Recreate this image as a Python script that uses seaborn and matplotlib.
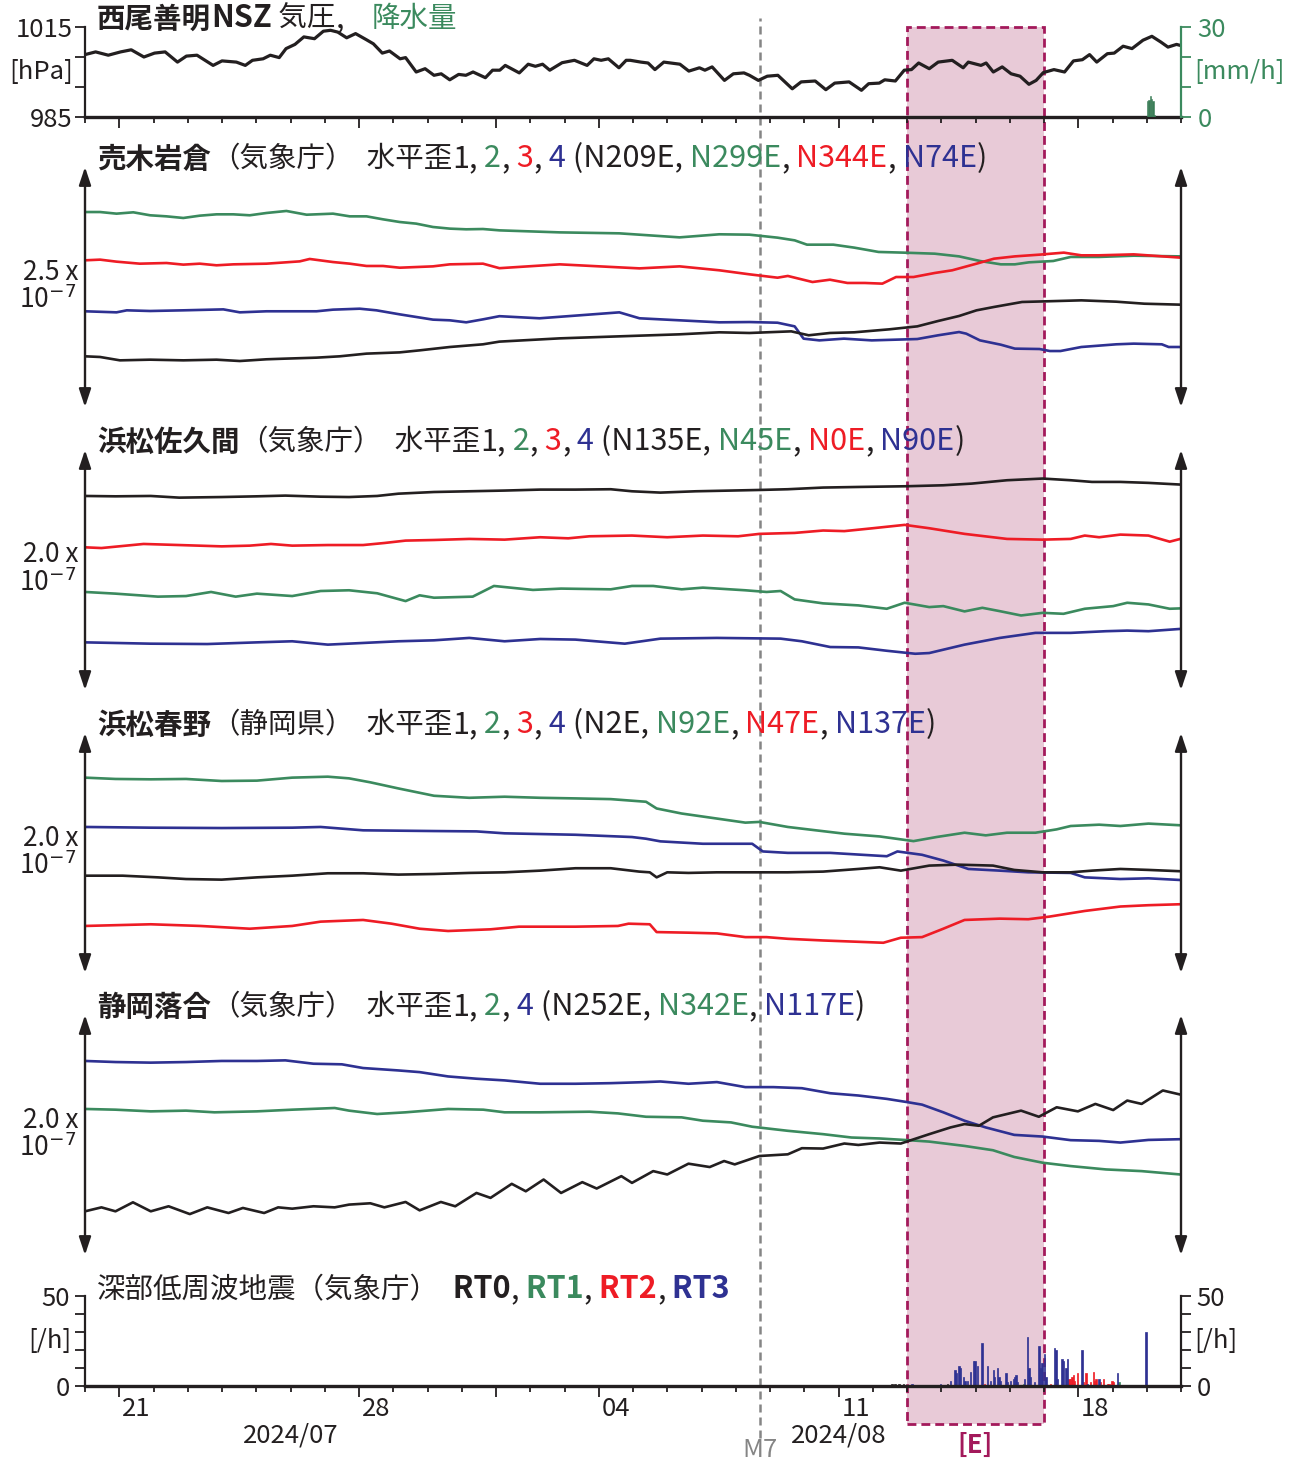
import numpy as np
import matplotlib
matplotlib.use("Agg")
import matplotlib.pyplot as plt
import matplotlib.dates as mdates
import matplotlib.transforms as mtransforms
from matplotlib.ticker import FixedLocator, NullFormatter
import seaborn as sns

sns.set_theme(style="ticks")
plt.rcParams["font.family"] = ["Noto Sans CJK JP", "DejaVu Sans"]
plt.rcParams["axes.unicode_minus"] = False

# ---------------- data ----------------
START = "2024-07-20T00:00"          # days below are counted from this time
END_DAYS = 32.0
M7_TIME = "2024-08-08T16:43"
E_PERIOD = ("2024-08-13T00:00", "2024-08-17T00:00")
MAJOR_DATES = ["2024-07-21", "2024-07-28", "2024-08-01", "2024-08-04", "2024-08-11", "2024-08-18"]
DAY_LABELS = [("2024-07-21T12:00", "21"), ("2024-07-28T12:00", "28"), ("2024-08-04T12:00", "04"),
              ("2024-08-11T12:00", "11"), ("2024-08-18T12:00", "18")]
MONTH_LABELS = [("2024-07-26T00:00", "2024/07"), ("2024-08-11T00:00", "2024/08")]

# 西尾善明NSZ pressure [hPa]
p_days = [0, 0.31, 0.68, 1.04, 1.35, 1.72, 2.03, 2.34, 2.70, 2.96,
          3.27, 3.74, 4.00, 4.42, 4.68, 4.89, 5.20, 5.41, 5.67, 5.87,
          6.13, 6.39, 6.70, 6.96, 7.17, 7.38, 7.64, 7.90, 8.21, 8.42,
          8.68, 8.89, 9.20, 9.36, 9.67, 9.93, 10.19, 10.40, 10.65, 10.91,
          11.12, 11.33, 11.69, 11.90, 12.11, 12.27, 12.68, 12.94, 13.15, 13.36,
          13.57, 13.93, 14.29, 14.66, 14.86, 15.07, 15.28, 15.59, 15.80,
          15.92, 16.23, 16.44, 16.64, 16.90, 17.37, 17.63, 17.94, 18.10, 18.31,
          18.67, 18.93, 19.24, 19.40, 19.66, 19.92, 20.23, 20.65, 20.91, 21.32,
          21.63, 21.89, 22.31, 22.67, 22.88, 23.19, 23.35, 23.66, 23.92, 24.13,
          24.34, 24.65, 24.91, 25.32, 25.64, 25.79, 26.16, 26.31, 26.52, 26.78,
          27.04, 27.30, 27.56, 27.77, 27.98, 28.29, 28.60, 28.86, 29.12, 29.33,
          29.54, 29.85, 30.05, 30.31, 30.57, 30.89, 31.15, 31.41, 31.62, 31.87, 32.0]
p_hpa = [1005.8, 1006.7, 1005.6, 1006.7, 1007.4, 1005.0, 1006.3, 1006.7, 1003.3, 1005.3,
         1005.6, 1002.2, 1003.7, 1003.3, 1002.2, 1003.9, 1004.4, 1005.6, 1004.8, 1007.8,
         1009.2, 1011.7, 1011.1, 1013.6, 1013.9, 1013.3, 1011.4, 1012.8, 1010.8, 1009.4,
         1006.3, 1007.0, 1004.4, 1004.8, 1000.0, 1001.1, 998.9, 999.4, 997.4, 999.2,
         998.9, 1000.0, 998.1, 1000.6, 1000.6, 1002.2, 999.7, 1002.6, 1001.9, 1002.6,
         1000.6, 1003.1, 1003.9, 1002.2, 1004.4, 1003.9, 1004.4, 1001.4, 1003.9,
         1003.9, 1003.3, 1003.0, 1000.8, 1003.3, 1002.6, 1000.3, 1001.4, 1000.6, 1001.7,
         997.2, 999.4, 999.7, 998.9, 997.2, 998.6, 998.9, 994.4, 996.7, 997.0,
         994.1, 996.3, 996.7, 993.9, 996.1, 996.3, 997.4, 997.0, 1000.6, 1000.8,
         1003.0, 1001.1, 1003.3, 1003.9, 1001.4, 1003.3, 1002.2, 1003.0, 1000.0, 1001.7,
         999.4, 998.6, 995.9, 997.2, 999.8, 1000.8, 1000.0, 1003.7, 1004.1, 1005.8,
         1003.3, 1006.1, 1006.3, 1008.6, 1007.8, 1010.6, 1011.9, 1010.0, 1008.3, 1009.2, 1008.8]

# precipitation [mm/h], hourly
rain_times = ["2024-08-20T00:00", "2024-08-20T01:00", "2024-08-20T02:00",
              "2024-08-20T03:00", "2024-08-20T04:00", "2024-08-20T05:00"]
rain_mm = [5.2, 5.6, 6.9, 6.0, 5.3, 0.8]

# strain, units of 1e-8 (relative)
# 売木岩倉
s1_k_d = [0, 0.44, 1.02, 1.90, 2.87, 3.84, 4.52, 5.30, 5.78, 6.76, 7.44, 8.22, 9.19, 9.77, 10.65, 11.62,
          12.10, 13.86, 15.60, 17.36, 18.52, 19.40, 20.62, 21.13, 21.75, 22.46, 23.48, 24.30, 24.91, 25.52,
          26.03, 26.54, 27.36, 28.38, 29.09, 30.11, 30.93, 31.98]
s1_k_v = [5.28, 5.21, 4.86, 4.93, 4.86, 4.93, 4.79, 4.97, 5.03, 5.14, 5.28, 5.56, 5.69, 5.90, 6.25, 6.53,
          6.81, 7.15, 7.36, 7.57, 7.78, 7.71, 7.88, 7.47, 7.71, 7.78, 8.09, 8.40, 8.96, 9.48,
          10.07, 10.42, 10.94, 11.04, 11.11, 10.97, 10.76, 10.66]
s1_g_d = [0, 0.44, 0.92, 1.41, 1.90, 2.38, 2.87, 3.35, 3.84, 4.33, 4.81, 5.30, 5.88, 6.47, 7.24, 7.73,
          8.22, 8.70, 9.19, 9.67, 10.16, 10.65, 11.13, 11.62, 12.10, 13.86, 15.60, 17.36, 18.52, 19.40,
          20.22, 20.72, 21.08, 21.85, 22.46, 23.17, 23.89, 24.81, 25.52, 26.13, 26.74, 27.15, 27.56, 28.27,
          28.78, 29.60, 30.62, 31.98]
s1_g_v = [20.31, 20.31, 20.14, 20.28, 19.97, 19.86, 19.69, 19.93, 20.07, 20.07, 19.97, 20.21, 20.42, 20.03, 20.14, 19.86,
          19.86, 19.55, 19.27, 19.10, 18.75, 18.58, 18.51, 18.54, 18.40, 18.19, 18.09, 17.67, 17.99, 17.95,
          17.64, 17.36, 16.91, 16.91, 16.60, 16.15, 16.08, 15.97, 15.69, 15.21, 14.86, 14.86, 15.07, 15.21,
          15.63, 15.63, 15.76, 15.69]
s1_r_d = [0, 0.44, 0.92, 1.60, 2.38, 2.87, 3.35, 3.84, 4.33, 5.30, 6.27, 6.56, 7.24, 7.73, 8.22, 8.70,
          9.19, 10.16, 10.65, 11.62, 12.10, 13.86, 15.02, 16.19, 17.36, 18.52, 19.40, 20.22, 20.52, 21.24,
          21.75, 22.26, 22.77, 23.28, 23.68, 24.19, 24.81, 25.32, 26.03, 26.54, 27.15, 27.87, 28.58, 29.09,
          29.60, 30.62, 31.98]
s1_r_v = [15.28, 15.35, 15.14, 14.93, 15.00, 14.83, 14.93, 14.76, 14.86, 14.93, 15.17, 15.42, 15.10, 14.93, 14.69, 14.69,
          14.51, 14.65, 14.86, 14.93, 14.46, 14.86, 14.65, 14.44, 14.65, 14.24, 13.82, 13.47, 13.65, 13.02,
          13.26, 12.92, 12.92, 12.85, 13.54, 13.54, 13.96, 14.24, 14.93, 15.45, 15.69, 15.87, 16.08, 15.80,
          15.80, 15.90, 15.56]
s1_b_d = [0, 0.92, 1.22, 1.90, 2.87, 4.04, 4.52, 5.30, 6.76, 7.24, 8.02, 8.51, 9.19, 10.16, 10.65, 11.13,
          11.62, 12.10, 13.27, 14.44, 15.60, 16.19, 17.36, 18.52, 19.40, 20.22, 20.72, 20.98, 21.44, 22.16,
          22.97, 24.30, 24.91, 25.52, 25.73, 26.13, 26.74, 27.15, 27.87, 28.17, 28.48, 29.09, 30.11, 30.62,
          31.44, 31.64, 31.98]
s1_b_v = [9.97, 9.86, 10.07, 10.00, 10.07, 10.17, 9.86, 9.97, 9.97, 10.14, 10.24, 10.07, 9.65, 9.10, 9.03, 8.82,
          9.13, 9.46, 9.24, 9.55, 9.86, 9.24, 9.03, 8.82, 8.85, 8.78, 8.40, 7.12, 6.94, 7.12,
          6.94, 7.08, 7.47, 7.81, 7.64, 6.94, 6.49, 6.08, 6.04, 5.83, 5.83, 6.25, 6.53, 6.60,
          6.53, 6.25, 6.25]

# 浜松佐久間
s2_k_d = [0, 0.89, 1.92, 2.75, 3.99, 5.02, 5.85, 6.88, 7.71, 8.53, 9.15, 10.19, 11.22, 12.25, 13.29, 14.32,
          15.35, 15.97, 16.80, 17.83, 18.86, 19.69, 20.52, 21.55, 22.58, 23.99, 25.06, 25.89, 26.92, 27.96,
          28.78, 29.40, 30.23, 31.05, 31.98]
s2_k_v = [16.17, 16.14, 16.17, 16.03, 16.08, 16.14, 16.20, 16.11, 16.08, 16.17, 16.36, 16.50, 16.56, 16.62, 16.70, 16.70,
          16.73, 16.56, 16.45, 16.56, 16.62, 16.67, 16.73, 16.87, 16.92, 16.98, 17.06, 17.20, 17.48, 17.62,
          17.48, 17.34, 17.34, 17.26, 17.12]
s2_r_d = [0, 0.48, 1.71, 2.75, 3.99, 4.81, 5.43, 6.05, 7.09, 8.12, 8.74, 9.36, 10.19, 11.22, 12.25, 13.29,
          14.11, 14.73, 15.97, 17.00, 18.04, 19.07, 19.69, 20.72, 21.55, 22.17, 23.00, 23.93, 24.65, 25.68,
          26.92, 27.96, 28.78, 29.19, 29.61, 30.23, 31.05, 31.67, 31.98]
s2_r_v = [11.89, 11.83, 12.17, 12.08, 11.97, 12.03, 12.17, 12.03, 12.08, 12.08, 12.25, 12.45, 12.50, 12.59, 12.53, 12.73,
          12.64, 12.81, 12.87, 12.73, 12.87, 12.81, 13.01, 13.09, 13.29, 13.24, 13.48, 13.76, 13.48, 13.01,
          12.59, 12.53, 12.59, 12.87, 12.73, 12.95, 12.87, 12.36, 12.59]
s2_g_d = [0, 0.89, 2.13, 2.95, 3.68, 4.40, 5.02, 6.05, 6.88, 7.71, 8.53, 9.36, 9.77, 10.19, 11.32, 11.94,
          13.08, 13.90, 15.35, 15.97, 16.59, 17.42, 18.04, 19.28, 19.90, 20.31, 20.72, 21.55, 22.58, 23.41,
          23.93, 24.65, 25.06, 25.68, 26.20, 26.71, 27.33, 27.96, 28.57, 29.19, 30.02, 30.43, 31.05, 31.67, 31.98]
s2_g_v = [8.17, 8.03, 7.78, 7.83, 8.17, 7.78, 8.03, 7.83, 8.25, 8.31, 8.06, 7.41, 7.89, 7.69, 7.78, 8.67,
          8.34, 8.45, 8.39, 8.67, 8.67, 8.39, 8.53, 8.31, 8.17, 8.25, 7.55, 7.22, 7.05, 6.77,
          7.27, 6.91, 6.99, 6.55, 6.85, 6.57, 6.21, 6.43, 6.35, 6.77, 6.99, 7.27, 7.13, 6.77, 6.80]
s2_b_d = [0, 1.92, 3.57, 5.02, 6.05, 7.09, 9.15, 10.19, 11.22, 12.25, 13.29, 14.32, 15.76, 16.80, 18.45, 20.31,
          20.93, 21.76, 22.58, 23.41, 24.24, 24.65, 25.68, 26.71, 27.75, 28.78, 29.81, 30.43, 31.05, 31.98]
s2_b_v = [3.97, 3.86, 3.83, 3.97, 4.06, 3.78, 4.06, 4.14, 4.34, 4.06, 4.25, 4.20, 3.86, 4.28, 4.34, 4.28,
          4.06, 3.58, 3.55, 3.27, 3.02, 3.08, 3.78, 4.34, 4.76, 4.76, 4.90, 4.95, 4.90, 5.09]

# 浜松春野
s3_k_d = [0, 1.10, 2.13, 2.95, 3.99, 5.02, 6.05, 7.09, 8.12, 9.15, 10.19, 11.22, 12.25, 13.29, 14.32, 15.35,
          16.18, 16.49, 16.69, 17.00, 17.62, 18.45, 19.69, 20.52, 21.55, 22.58, 23.20, 23.82, 24.65, 25.48,
          26.51, 27.13, 27.96, 28.78, 29.40, 30.23, 31.05, 31.98]
s3_k_v = [8.11, 8.11, 7.97, 7.83, 7.78, 7.97, 8.11, 8.31, 8.31, 8.20, 8.25, 8.34, 8.39, 8.53, 8.73, 8.73,
          8.45, 8.39, 7.97, 8.39, 8.34, 8.39, 8.39, 8.39, 8.45, 8.67, 8.81, 8.53, 8.95, 9.03,
          8.95, 8.59, 8.39, 8.39, 8.53, 8.67, 8.59, 8.48]
s3_g_d = [0, 0.89, 1.92, 2.95, 3.99, 5.02, 6.05, 7.09, 7.71, 8.33, 9.15, 10.19, 11.22, 12.25, 13.29, 14.32,
          15.35, 16.38, 16.69, 17.42, 18.45, 19.28, 19.69, 20.52, 21.34, 22.17, 23.20, 24.19, 24.86, 25.68,
          26.30, 26.92, 27.75, 28.37, 28.78, 29.61, 30.23, 31.05, 31.98]
s3_g_v = [16.28, 16.17, 16.14, 16.17, 16.00, 16.03, 16.28, 16.36, 16.22, 15.89, 15.38, 14.77, 14.60, 14.69, 14.60, 14.55,
          14.49, 14.27, 13.71, 13.29, 12.87, 12.53, 12.59, 12.17, 11.89, 11.61, 11.38, 10.99, 11.33, 11.69,
          11.47, 11.69, 11.69, 11.97, 12.25, 12.36, 12.25, 12.45, 12.31]
s3_r_d = [0, 1.92, 3.37, 4.81, 6.05, 6.88, 8.12, 8.95, 9.77, 10.60, 11.84, 12.67, 14.32, 15.56, 15.87, 16.49,
          16.69, 17.62, 18.45, 19.28, 19.90, 20.52, 21.55, 22.58, 23.31, 23.82, 24.44, 25.06, 25.68, 26.71,
          27.54, 28.16, 29.19, 30.23, 31.05, 31.98]
s3_r_v = [3.92, 4.06, 3.92, 3.69, 3.92, 4.28, 4.42, 4.11, 3.69, 3.50, 3.64, 3.86, 3.86, 3.92, 4.11, 4.06,
          3.41, 3.36, 3.30, 2.99, 2.99, 2.85, 2.71, 2.60, 2.52, 2.94, 2.99, 3.69, 4.42, 4.53,
          4.48, 4.70, 5.17, 5.54, 5.65, 5.73]
s3_b_d = [0, 1.92, 3.99, 6.05, 6.88, 8.12, 10.19, 11.43, 12.25, 14.32, 15.97, 16.38, 16.80, 18.04, 19.48, 19.79,
          20.52, 21.76, 22.58, 23.41, 23.72, 24.44, 25.06, 25.79, 26.71, 27.54, 28.78, 29.19, 30.23, 31.05, 31.98]
s3_b_v = [12.17, 12.11, 12.08, 12.11, 12.17, 11.89, 11.83, 11.80, 11.64, 11.52, 11.33, 11.19, 10.97, 10.77, 10.77, 10.13,
          10.01, 10.01, 9.87, 9.73, 10.13, 9.85, 9.37, 8.67, 8.53, 8.39, 8.34, 7.97, 7.83, 7.89, 7.75]

# 静岡落合
s4_k_d = [0, 0.48, 0.89, 1.40, 1.92, 2.44, 3.06, 3.57, 4.19, 4.61, 5.23, 5.64, 6.05, 6.67, 7.29, 7.71,
          8.33, 8.74, 9.36, 9.77, 10.39, 10.81, 11.43, 11.84, 12.46, 12.87, 13.39, 13.90, 14.52, 14.94,
          15.66, 15.97, 16.59, 17.00, 17.62, 18.24, 18.66, 18.97, 19.69, 20.52, 20.93, 21.55, 22.17, 22.58,
          23.20, 23.82, 24.65, 25.27, 25.68, 26.10, 26.51, 27.33, 27.85, 28.37, 28.99, 29.50, 30.02, 30.43,
          30.85, 31.47, 31.98]
s4_k_v = [3.64, 3.97, 3.64, 4.39, 3.64, 4.06, 3.41, 3.97, 3.50, 3.92, 3.50, 3.97, 3.86, 4.06, 3.97, 4.20,
          4.31, 3.97, 4.42, 3.72, 4.42, 4.06, 5.17, 4.76, 5.93, 5.31, 6.29, 5.17, 6.07, 5.54,
          6.57, 6.01, 6.99, 6.71, 7.61, 7.33, 7.83, 7.55, 8.25, 8.39, 8.90, 8.87, 9.29, 9.17,
          9.37, 9.29, 10.07, 10.63, 10.91, 10.77, 11.47, 12.03, 11.52, 12.31, 11.97, 12.59, 12.08, 12.87,
          12.59, 13.71, 13.37]
s4_g_d = [0, 0.89, 1.92, 2.95, 3.78, 5.02, 6.05, 7.29, 7.71, 8.53, 9.36, 10.60, 11.63, 12.25, 13.29, 14.73,
          15.56, 16.38, 17.42, 18.04, 18.86, 19.48, 20.52, 21.55, 22.38, 23.20, 24.03, 24.65, 25.68, 26.51,
          27.13, 27.96, 28.78, 29.81, 30.85, 31.98]
s4_g_v = [12.17, 12.11, 11.97, 12.03, 11.89, 11.97, 12.11, 12.25, 12.03, 11.75, 11.89, 12.17, 12.11, 11.89, 11.89, 11.94,
          11.80, 11.52, 11.47, 11.19, 11.05, 10.69, 10.35, 10.07, 9.79, 9.71, 9.57, 9.45, 9.09, 8.73,
          8.17, 7.69, 7.41, 7.13, 6.99, 6.71]
s4_b_d = [0, 0.89, 1.92, 2.95, 3.99, 5.02, 5.85, 6.67, 7.50, 8.12, 9.15, 9.77, 10.60, 11.43, 12.25, 13.29,
          14.32, 15.35, 16.38, 16.80, 17.62, 18.45, 19.28, 20.10, 20.93, 21.76, 22.58, 23.41, 24.03, 24.44,
          25.06, 25.68, 26.30, 27.13, 27.96, 28.78, 29.61, 30.23, 31.05, 31.98]
s4_b_v = [16.17, 16.08, 16.03, 16.08, 16.17, 16.17, 16.22, 15.94, 15.89, 15.58, 15.38, 15.24, 14.88, 14.69, 14.55, 14.27,
          14.27, 14.32, 14.41, 14.46, 14.27, 14.41, 13.99, 13.99, 13.90, 13.48, 13.29, 13.01, 12.73, 12.53,
          11.89, 11.19, 10.63, 10.01, 9.87, 9.57, 9.51, 9.37, 9.59, 9.65]

# 深部低周波地震 hourly counts (hours since 2024-08-13 00:00)
LFE_BASE = "2024-08-13T00:00"
rt0_h = [-11, -9, -6, -3, 28]
rt0_n = [1, 1, 1, 1, 1]
rt1_h = [81, 148]
rt1_n = [1, 2]
rt2_h = [54, 100, 113, 114, 115, 116, 117, 119, 123, 125, 128, 130, 131, 132, 135, 137, 140, 141, 143, 144]
rt2_n = [1, 1, 4, 4, 5, 6, 3, 7, 2, 7, 2, 8, 3, 4, 2, 4, 1, 1, 3, 2]
rt3_h = [3, 23, 30, 33, 34, 36, 37, 39, 40, 42, 44, 46, 47, 49, 52, 56, 58, 60, 61, 63,
         64, 65, 69, 70, 72, 74, 75, 76, 77, 82, 84, 85, 86, 89, 92, 93, 94, 96, 97, 103,
         104, 105, 108, 109, 111, 112, 122, 126, 134, 147, 167]
rt3_n = [1, 1, 3, 9, 7, 11, 10, 5, 3, 3, 8, 14, 14, 11, 24, 11, 3, 9, 5, 10,
         5, 3, 7, 2, 3, 4, 5, 6, 2, 4, 27, 10, 5, 2, 22, 10, 13, 18, 5, 21,
         20, 4, 15, 14, 10, 15, 20, 1, 4, 7, 30]

# ---------------- style ----------------
BLACK = "#231f20"
GREEN = "#3b8a5e"
RED = "#ee1c25"
BLUE = "#2e3192"
SHADE = "#e8cad7"
SHADE_EDGE = "#a3195b"
GRAY = "#858585"
FS_CJK = 20.5
FS_LATIN = 22
FS_TICK = 18.5
FS_SCALE = 19

W, H = 1298, 1463
L_PX, R_PX = 85, 1181


def dnum(s):
    return mdates.date2num(np.datetime64(s))


BASE = dnum(START)
X0, X1 = BASE, BASE + END_DAYS


def tx(days):
    return BASE + np.asarray(days, float)


def rect(top, bottom):
    return [L_PX / W, 1 - bottom / H, (R_PX - L_PX) / W, (bottom - top) / H]


fig = plt.figure(figsize=(W / 100, H / 100), dpi=100)

# background axes for the event shading and M7 line
BG_TOP, BG_BOT = 18, 1440
bg = fig.add_axes(rect(BG_TOP, BG_BOT), zorder=0)
bg.set_xlim(X0, X1)
bg.set_ylim(0, 1)
bg.axis("off")


def frac(px):
    return (BG_BOT - px) / (BG_BOT - BG_TOP)


e0, e1 = dnum(E_PERIOD[0]), dnum(E_PERIOD[1])
bg.axvspan(e0, e1, ymin=frac(1424), ymax=frac(27), facecolor=SHADE, edgecolor="none", zorder=0)
bg.axvspan(e0, e1, ymin=frac(1424), ymax=frac(27), facecolor="none", edgecolor=SHADE_EDGE,
           linestyle=(0, (3.2, 1.8)), linewidth=2.0, zorder=1)
bg.axvline(dnum(M7_TIME), ymin=frac(1438), ymax=frac(18), color=GRAY, linestyle=(0, (3.2, 2)),
           linewidth=1.8, zorder=2)


def is_cjk(s):
    return any(ord(ch) > 0x2E80 for ch in s)


def rainbow(ax, x, y, parts):
    s, c, w = parts[0]
    txt = ax.text(x, y, s, color=c, fontweight=w, fontsize=FS_CJK if is_cjk(s) else FS_LATIN,
                  transform=ax.transAxes, va="center", ha="left", zorder=6, clip_on=False)
    for s, c, w in parts[1:]:
        txt = ax.annotate(s, xy=(1, 0), xycoords=txt, va="bottom", ha="left", color=c,
                          fontweight=w, fontsize=FS_CJK if is_cjk(s) else FS_LATIN,
                          zorder=6, annotation_clip=False)
    return txt


def date_ticks(ax):
    ax.xaxis.set_major_locator(FixedLocator([dnum(d) for d in MAJOR_DATES]))
    ax.xaxis.set_minor_locator(mdates.DayLocator())
    ax.xaxis.set_major_formatter(NullFormatter())
    ax.xaxis.set_minor_formatter(NullFormatter())
    ax.tick_params(axis="x", which="major", length=8, width=1.3, direction="out", color=BLACK, bottom=True)
    ax.tick_params(axis="x", which="minor", length=4, width=1.3, direction="out", color=BLACK, bottom=True)


# ---------------- pressure panel ----------------
axp = fig.add_axes(rect(27, 117), zorder=2)
axp.patch.set_alpha(0)
axp.set_xlim(X0, X1)
axp.set_ylim(985, 1015)
sns.lineplot(x=tx(p_days), y=p_hpa, ax=axp, color=BLACK, linewidth=2.3, legend=False)
for side in ("top", "right"):
    axp.spines[side].set_visible(False)
axp.spines["left"].set_linewidth(1.6)
axp.spines["left"].set_color(BLACK)
axp.spines["bottom"].set_linewidth(2.4)
axp.spines["bottom"].set_color(BLACK)
date_ticks(axp)
axp.set_yticks([985, 995, 1005, 1015])
axp.set_yticklabels(["985", "", "", "1015"], fontsize=FS_TICK, color=BLACK)
axp.tick_params(axis="y", length=7, width=1.3, color=BLACK, direction="out", pad=2)
axp.text(-0.011, 0.5, "[hPa]", transform=axp.transAxes, ha="right", va="center",
         fontsize=FS_TICK, color=BLACK)

axr = axp.twinx()
axr.patch.set_alpha(0)
axr.set_ylim(0, 30)
axr.set_xlim(X0, X1)
axr.bar([dnum(s) for s in rain_times], rain_mm, width=1 / 24, align="edge", color="#3a7d57",
        edgecolor="#3a7d57", linewidth=0.4)
for side in ("top", "left", "bottom"):
    axr.spines[side].set_visible(False)
axr.spines["right"].set_color(GREEN)
axr.spines["right"].set_linewidth(1.6)
axr.set_yticks([0, 10, 20, 30])
axr.set_yticklabels(["0", "", "", "30"], fontsize=FS_TICK, color=GREEN)
axr.tick_params(axis="y", length=7, width=1.3, color=GREEN, direction="out", pad=5)
axr.text(1.012, 0.5, "[mm/h]", transform=axr.transAxes, ha="left", va="center",
         fontsize=FS_TICK, color=GREEN)
rainbow(axp, 0.011, 1.08, [("西尾善明", BLACK, "bold"), ("NSZ", BLACK, "bold"), (" 気圧", BLACK, "normal"),
                           (",", BLACK, "normal"), ("    ", BLACK, "normal"), ("降水量", GREEN, "normal")])

# ---------------- strain panels ----------------
strain_panels = [
    dict(top=167, bottom=407, rng=25, label="2.5 x",
         series=[(s1_g_d, s1_g_v, GREEN), (s1_r_d, s1_r_v, RED), (s1_b_d, s1_b_v, BLUE), (s1_k_d, s1_k_v, BLACK)],
         title=[("売木岩倉", BLACK, "bold"), ("（気象庁）", BLACK, "normal"), ("  水平歪", BLACK, "normal"),
                ("1,", BLACK, "normal"),
                (" 2", GREEN, "normal"), (",", BLACK, "normal"), (" 3", RED, "normal"), (",", BLACK, "normal"),
                (" 4", BLUE, "normal"), (" (N209E,", BLACK, "normal"), (" N299E", GREEN, "normal"),
                (",", BLACK, "normal"), (" N344E", RED, "normal"), (",", BLACK, "normal"),
                (" N74E", BLUE, "normal"), (")", BLACK, "normal")]),
    dict(top=450, bottom=690, rng=20, label="2.0 x",
         series=[(s2_k_d, s2_k_v, BLACK), (s2_r_d, s2_r_v, RED), (s2_g_d, s2_g_v, GREEN), (s2_b_d, s2_b_v, BLUE)],
         title=[("浜松佐久間", BLACK, "bold"), ("（気象庁）", BLACK, "normal"), ("  水平歪", BLACK, "normal"),
                ("1,", BLACK, "normal"),
                (" 2", GREEN, "normal"), (",", BLACK, "normal"), (" 3", RED, "normal"), (",", BLACK, "normal"),
                (" 4", BLUE, "normal"), (" (N135E,", BLACK, "normal"), (" N45E", GREEN, "normal"),
                (",", BLACK, "normal"), (" N0E", RED, "normal"), (",", BLACK, "normal"),
                (" N90E", BLUE, "normal"), (")", BLACK, "normal")]),
    dict(top=733, bottom=973, rng=20, label="2.0 x",
         series=[(s3_g_d, s3_g_v, GREEN), (s3_b_d, s3_b_v, BLUE), (s3_k_d, s3_k_v, BLACK), (s3_r_d, s3_r_v, RED)],
         title=[("浜松春野", BLACK, "bold"), ("（静岡県）", BLACK, "normal"), ("  水平歪", BLACK, "normal"),
                ("1,", BLACK, "normal"),
                (" 2", GREEN, "normal"), (",", BLACK, "normal"), (" 3", RED, "normal"), (",", BLACK, "normal"),
                (" 4", BLUE, "normal"), (" (N2E,", BLACK, "normal"), (" N92E", GREEN, "normal"),
                (",", BLACK, "normal"), (" N47E", RED, "normal"), (",", BLACK, "normal"),
                (" N137E", BLUE, "normal"), (")", BLACK, "normal")]),
    dict(top=1015, bottom=1255, rng=20, label="2.0 x",
         series=[(s4_b_d, s4_b_v, BLUE), (s4_g_d, s4_g_v, GREEN), (s4_k_d, s4_k_v, BLACK)],
         title=[("静岡落合", BLACK, "bold"), ("（気象庁）", BLACK, "normal"), ("  水平歪", BLACK, "normal"),
                ("1,", BLACK, "normal"),
                (" 2", GREEN, "normal"), (",", BLACK, "normal"), (" 4", BLUE, "normal"),
                (" (N252E,", BLACK, "normal"), (" N342E", GREEN, "normal"), (",", BLACK, "normal"),
                (" N117E", BLUE, "normal"), (")", BLACK, "normal")]),
]

for pnl in strain_panels:
    ax = fig.add_axes(rect(pnl["top"], pnl["bottom"]), zorder=2)
    ax.patch.set_alpha(0)
    ax.set_xlim(X0, X1)
    ax.set_ylim(0, pnl["rng"])
    for d, v, c in pnl["series"]:
        sns.lineplot(x=tx(d), y=v, ax=ax, color=c, linewidth=1.9, legend=False)
    for sp in ax.spines.values():
        sp.set_visible(False)
    ax.set_xticks([])
    ax.set_yticks([])
    ax.set_xlabel("")
    ax.set_ylabel("")
    for xa in (0, 1):
        ax.annotate("", xy=(xa, 1), xytext=(xa, 0), xycoords="axes fraction", textcoords="axes fraction",
                    arrowprops=dict(arrowstyle="<|-|>,head_length=0.9,head_width=0.3", color=BLACK,
                                    lw=1.7, mutation_scale=12, shrinkA=0, shrinkB=0), annotation_clip=False)
    hpx = pnl["bottom"] - pnl["top"]
    ax.text(-0.006, 0.5 + 15 / hpx, pnl["label"], transform=ax.transAxes, ha="right", va="center",
            fontsize=FS_SCALE, color=BLACK)
    ax.text(-0.008, 0.5 - 13 / hpx, r"10$^{-7}$", transform=ax.transAxes, ha="right", va="center",
            fontsize=FS_SCALE, color=BLACK)
    rainbow(ax, 0.011, 1 + 7 / hpx, pnl["title"])

# ---------------- LFE panel ----------------
axl = fig.add_axes(rect(1296, 1386), zorder=2)
axl.patch.set_alpha(0)
axl.set_xlim(X0, X1)
axl.set_ylim(0, 50)
lb = dnum(LFE_BASE)
for hrs, cnt, col in [(rt0_h, rt0_n, BLACK), (rt1_h, rt1_n, GREEN), (rt2_h, rt2_n, RED), (rt3_h, rt3_n, BLUE)]:
    axl.bar(lb + np.asarray(hrs, float) / 24, cnt, width=1 / 24, align="edge", color=col,
            edgecolor=col, linewidth=0.5)
axl.spines["top"].set_visible(False)
for side in ("left", "right"):
    axl.spines[side].set_linewidth(1.6)
    axl.spines[side].set_color(BLACK)
axl.spines["bottom"].set_linewidth(2.4)
axl.spines["bottom"].set_color(BLACK)
date_ticks(axl)
axl.set_yticks([0, 10, 20, 30, 40, 50])
axl.set_yticklabels(["0", "", "", "", "", "50"], fontsize=FS_TICK, color=BLACK)
axl.tick_params(axis="y", length=7, width=1.3, color=BLACK, direction="out", left=True, right=True,
                labelleft=True, labelright=True, pad=4)
axl.text(-0.012, 0.5, "[/h]", transform=axl.transAxes, ha="right", va="center", fontsize=FS_TICK, color=BLACK)
axl.text(1.012, 0.5, "[/h]", transform=axl.transAxes, ha="left", va="center", fontsize=FS_TICK, color=BLACK)
rainbow(axl, 0.011, 1.067, [("深部低周波地震（気象庁）", BLACK, "normal"), ("  RT0", BLACK, "bold"),
                            (",", BLACK, "normal"), (" RT1", GREEN, "bold"), (",", BLACK, "normal"),
                            (" RT2", RED, "bold"), (",", BLACK, "normal"), (" RT3", BLUE, "bold")])

trans = mtransforms.blended_transform_factory(axl.transData, axl.transAxes)
for d, lab in DAY_LABELS:
    axl.text(dnum(d), -0.26, lab, transform=trans, ha="center", va="center", fontsize=FS_TICK, color=BLACK)
for d, lab in MONTH_LABELS:
    axl.text(dnum(d), -0.55, lab, transform=trans, ha="center", va="center", fontsize=FS_TICK, color=BLACK)
axl.text(dnum(M7_TIME), -0.71, "M7", transform=trans, ha="center", va="center", fontsize=FS_TICK, color=GRAY)
axl.text((e0 + e1) / 2, -0.66, "[E]", transform=trans, ha="center", va="center", fontsize=FS_TICK,
         color=SHADE_EDGE, fontweight="bold")

fig.savefig("out.png", dpi=100)
